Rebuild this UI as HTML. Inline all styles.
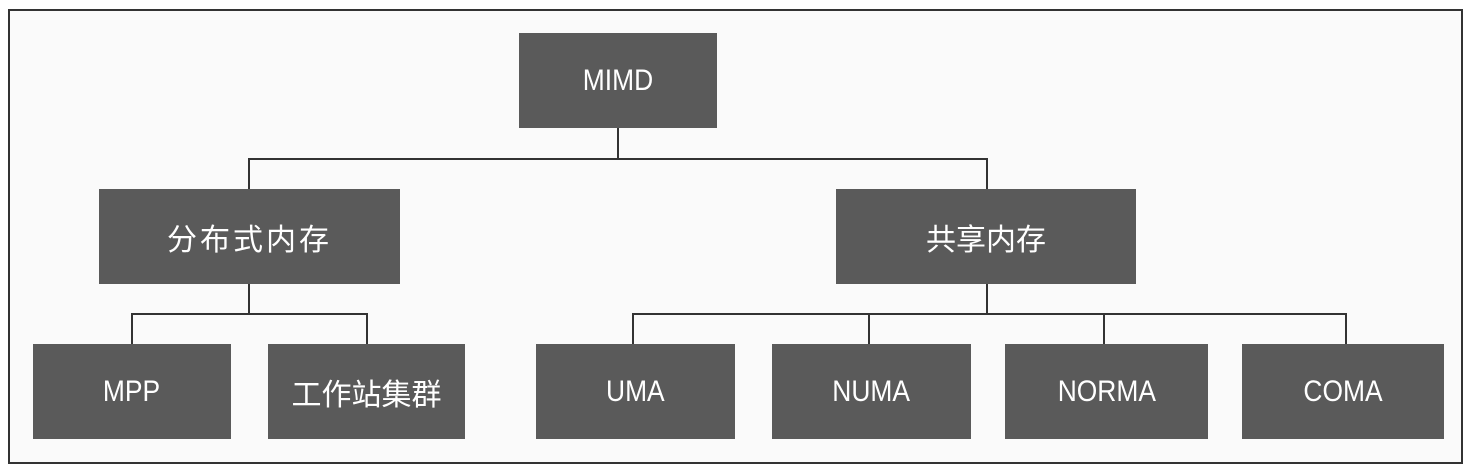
<!DOCTYPE html>
<html><head><meta charset="utf-8"><style>
html,body{margin:0;padding:0;background:#fff;}
body{width:1471px;height:473px;position:relative;overflow:hidden;}
.frame{position:absolute;left:8px;top:9px;width:1451px;height:451px;border:2px solid #333;background:#fafafa;}
.b{position:absolute;background:#5a5a5a;color:#fff;display:flex;align-items:center;justify-content:center;font-family:"Liberation Sans","Noto Sans CJK SC",sans-serif;font-size:30px;}
.b span.t{display:inline-block;transform:scaleX(0.88);}
.l{position:absolute;background:#333;}
.h{height:2px;}
.v{width:2px;}
</style></head><body>
<div class="frame"></div>
<div class="b" style="left:519px;top:33px;width:198px;height:95px;"><span class="t">MIMD</span></div>
<div class="b" style="left:99px;top:189px;width:301px;height:95px;font-size:30px;letter-spacing:3px;">分布式内存</div>
<div class="b" style="left:836px;top:189px;width:300px;height:95px;font-size:30px;">共享内存</div>
<div class="b" style="left:33px;top:344px;width:198px;height:95px;"><span class="t">MPP</span></div>
<div class="b" style="left:268px;top:344px;width:197px;height:95px;font-size:30px;">工作站集群</div>
<div class="b" style="left:536px;top:344px;width:199px;height:95px;"><span class="t">UMA</span></div>
<div class="b" style="left:772px;top:344px;width:199px;height:95px;"><span class="t">NUMA</span></div>
<div class="b" style="left:1005px;top:344px;width:203px;height:95px;"><span class="t">NORMA</span></div>
<div class="b" style="left:1242px;top:344px;width:202px;height:95px;"><span class="t">COMA</span></div>
<div class="l v" style="left:617px;top:128px;height:31px;"></div>
<div class="l h" style="left:248px;top:158px;width:740px;"></div>
<div class="l v" style="left:248px;top:158px;height:31px;"></div>
<div class="l v" style="left:986px;top:158px;height:31px;"></div>
<div class="l v" style="left:248px;top:284px;height:31px;"></div>
<div class="l h" style="left:131px;top:313px;width:237px;"></div>
<div class="l v" style="left:131px;top:313px;height:31px;"></div>
<div class="l v" style="left:366px;top:313px;height:31px;"></div>
<div class="l v" style="left:986px;top:284px;height:31px;"></div>
<div class="l h" style="left:632px;top:313px;width:715px;"></div>
<div class="l v" style="left:632px;top:313px;height:31px;"></div>
<div class="l v" style="left:868px;top:313px;height:31px;"></div>
<div class="l v" style="left:1103px;top:313px;height:31px;"></div>
<div class="l v" style="left:1345px;top:313px;height:31px;"></div>
</body></html>
